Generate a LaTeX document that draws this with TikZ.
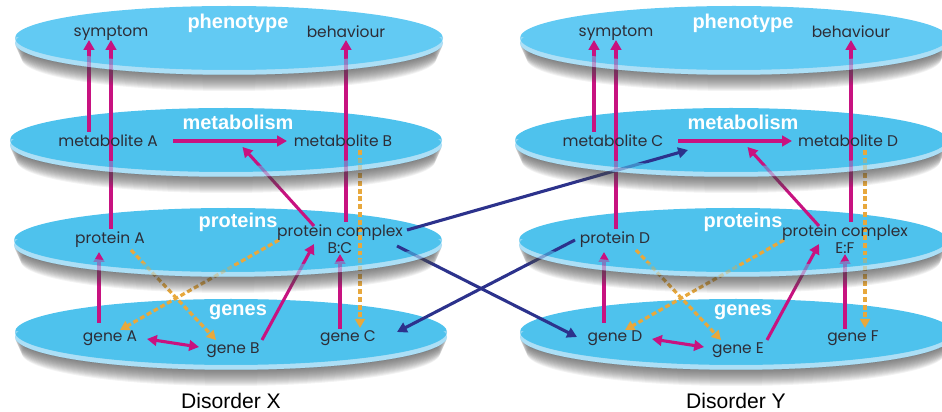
\documentclass[tikz,border=0pt]{standalone}
\usepackage{fontspec}
\setmainfont{Liberation Sans}
\newfontfamily\geofont{Poppins}
\usetikzlibrary{arrows.meta,calc}

\pgfdeclarelayer{bg}
\pgfdeclarelayer{fg}
\pgfdeclarelayer{txt}
\pgfsetlayers{bg,main,fg,txt}

\definecolor{discTop}{RGB}{98,202,243}
\definecolor{discMid}{RGB}{78,194,237}
\definecolor{discRim}{RGB}{172,223,246}
\definecolor{linkMag}{RGB}{200,18,128}
\definecolor{linkNavy}{RGB}{44,50,140}
\definecolor{linkDash}{RGB}{232,168,60}
\definecolor{labelInk}{RGB}{45,45,55}

\tikzset{
  item/.style={font=\geofont\fontsize{11}{12}\selectfont, text=labelInk, inner sep=1pt},
  layername/.style={font=\bfseries\fontsize{14.2}{15}\selectfont, text=white, inner sep=0pt},
  caption/.style={font=\fontsize{15}{17}\selectfont, text=black, inner sep=0pt},
  magArrow/.style={draw=linkMag, line width=2.2pt, -{Triangle[length=7pt,width=7.5pt]}},
  magBoth/.style={draw=linkMag, line width=2.2pt, {Triangle[length=7pt,width=7.5pt]}-{Triangle[length=7pt,width=7.5pt]}},
  navyArrow/.style={draw=linkNavy, line width=2.2pt, -{Triangle[length=7pt,width=7.5pt]}},
  dashArrow/.style={draw=linkDash, line width=2.3pt, dash pattern=on 3.5pt off 2pt, -{Triangle[length=6.5pt,width=7pt]}},
}

% One layer disc: centre x, centre y, x radius, y radius, surface colour.
% The body goes below the links; the front edge and the soft cast shadow go over them.
\newcommand\DiscBody[5]{%
  \begin{pgfonlayer}{bg}
    \fill[discRim] (#1,#2+5) ellipse [x radius=#3, y radius=#4];
    \fill[#5] (#1,#2) ellipse [x radius=#3, y radius=#4];
  \end{pgfonlayer}
  \begin{pgfonlayer}{fg}
    \begin{scope}
      \clip (#1-#3-4,#2) rectangle (#1+#3+4,#2+#4+8);
      \fill[#5, opacity=.6, even odd rule]
        (#1,#2-6) ellipse [x radius=#3, y radius=#4]
        (#1,#2) ellipse [x radius=#3, y radius=#4];
      \fill[discRim, opacity=.65, even odd rule]
        (#1,#2) ellipse [x radius=#3, y radius=#4]
        (#1,#2+5) ellipse [x radius=#3, y radius=#4];
    \end{scope}
    \begin{scope}[even odd rule]
      \clip (#1-#3-30,#2-#4) rectangle (#1+#3+30,#2+#4+45)
            (#1,#2+5) ellipse [x radius=#3, y radius=#4];
      \foreach \k in {6,...,21}
        \fill[black!70, opacity=.065]
          (#1,#2+\k) ellipse [x radius=#3-0.45*(\k-6), y radius=#4];
    \end{scope}
  \end{pgfonlayer}
}

% One disorder: suffix, metabolites, protein, complex, genes, disorder letter
\newcommand\Panel[9]{%
  \DiscBody{229}{38}{214}{32}{discTop}
  \DiscBody{226}{140}{216}{32}{discMid}
  \DiscBody{228}{240}{214}{32}{discMid}
  \DiscBody{231}{332}{216}{33}{discMid}
  \begin{pgfonlayer}{txt}
    \node[layername] (phen#1)  at (238,23)  {phenotype};
    \node[item]      (symp#1)  at (111,33)  {symptom};
    \node[item]      (behav#1) at (346,32)  {behaviour};
    \node[layername] (metab#1) at (238,122) {metabolism};
    \node[item]      (met#1a)  at (108,141) {metabolite #2};
    \node[item]      (met#1b)  at (343,141) {metabolite #3};
    \node[layername] (prots#1) at (238,222) {proteins};
    \node[item]      (prot#1)  at (110,240) {protein #4};
    \node[item, align=center] (cplx#1) at (340,239.5) {protein complex\\#5};
    \node[layername] (genes#1) at (238,312) {genes};
    \node[item]      (gene#1a) at (110,338) {gene #6};
    \node[item]      (gene#1b) at (233,350) {gene #7};
    \node[item]      (gene#1c) at (348,338) {gene #8};
    \node[caption]   (dis#1)   at (231,401) {Disorder #9};
  \end{pgfonlayer}
  % upward links
  \draw[magArrow] ($(met#1a)+(-19,-9)$) -- ($(symp#1)+(-22,7)$);
  \draw[magArrow] ($(prot#1)+(1,-11)$) -- ($(symp#1)+(0,7)$);
  \draw[magArrow] ($(cplx#1)+(6,-17.5)$) -- ($(behav#1)+(0,8)$);
  \draw[magArrow] ($(met#1a)+(65,0)$) -- ($(met#1b)+(-56,0)$);
  \draw[magArrow] ($(cplx#1)+(-26,-13.5)$) -- ($(met#1a)!0.5!(met#1b)+(17,6)$);
  \draw[magArrow] ($(gene#1a)+(-11,-15)$) -- ($(prot#1)+(-11,12)$);
  \draw[magBoth]  ($(gene#1a)+(37,1)$) -- ($(gene#1b)+(-34,-3)$);
  \draw[magArrow] ($(gene#1b)+(29,-10)$) -- ($(cplx#1)+(-26,4.5)$);
  \draw[magArrow] ($(gene#1c)+(-8,-9)$) -- ($(cplx#1)+(0,14.5)$);
  % feedback links
  \draw[dashArrow] ($(met#1b)+(17,9)$) -- ($(gene#1c)+(12,-10)$);
  \draw[dashArrow] ($(prot#1)+(21,10)$) -- ($(gene#1b)+(-17,-10)$);
  \draw[dashArrow] ($(cplx#1)+(-61,0.5)$) -- ($(gene#1a)+(10,-8)$);
}

\begin{document}
\begin{tikzpicture}[x=0.025cm, y=-0.025cm]
  \useasboundingbox (0,0) rectangle (942,412);
  \Panel{L}{A}{B}{A}{B:C}{A}{B}{C}{X}
  \begin{scope}[shift={(505,0)}]
    \Panel{R}{C}{D}{D}{E:F}{D}{E}{F}{Y}
  \end{scope}
  % links between the two disorders
  \draw[navyArrow] ($(cplxL)+(67,-9.5)$) -- ($(metRa)+(75,9)$);
  \draw[navyArrow] ($(cplxL)+(57,6.5)$) -- ($(geneRa)+(-38,-1)$);
  \draw[navyArrow] ($(protR)+(-40,0)$) -- ($(geneLc)+(49,-6)$);
\end{tikzpicture}
\end{document}
